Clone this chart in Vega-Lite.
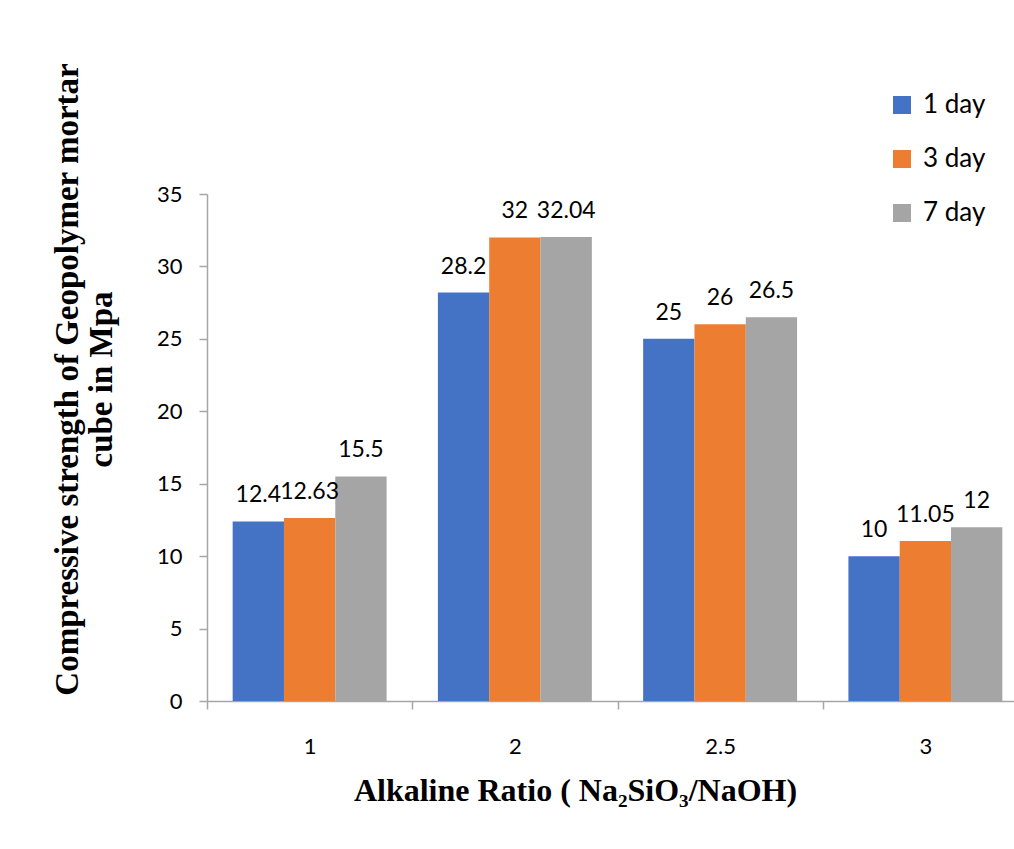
{
  "$schema": "https://vega.github.io/schema/vega-lite/v6.json",
  "autosize": {"type": "none"},
  "padding": {"left": 207, "top": 194, "right": 0, "bottom": 148},
  "width": 807,
  "height": 507,
  "background": "white",
  "config": {"view": {"stroke": null}},
  "data": {
    "values": [
      {"ratio": "1", "day": "1 day", "strength": 12.4},
      {"ratio": "1", "day": "3 day", "strength": 12.63},
      {"ratio": "1", "day": "7 day", "strength": 15.5},
      {"ratio": "2", "day": "1 day", "strength": 28.2},
      {"ratio": "2", "day": "3 day", "strength": 32},
      {"ratio": "2", "day": "7 day", "strength": 32.04},
      {"ratio": "2.5", "day": "1 day", "strength": 25},
      {"ratio": "2.5", "day": "3 day", "strength": 26},
      {"ratio": "2.5", "day": "7 day", "strength": 26.5},
      {"ratio": "3", "day": "1 day", "strength": 10},
      {"ratio": "3", "day": "3 day", "strength": 11.05},
      {"ratio": "3", "day": "7 day", "strength": 12}
    ]
  },
  "encoding": {
    "x": {
      "field": "ratio",
      "type": "nominal",
      "sort": ["1", "2", "2.5", "3"],
      "scale": {"paddingInner": 0, "paddingOuter": 0, "range": [0, 821]},
      "axis": {
        "title": "Alkaline Ratio ( Na₂SiO₃/NaOH)",
        "titleFont": "Liberation Serif",
        "titleFontWeight": "bold",
        "titleFontSize": 32,
        "titleColor": "#000000",
        "titleX": 368,
        "titleY": 99,
        "titleAlign": "center",
        "titleBaseline": "alphabetic",
        "labelAngle": 0,
        "labelFont": "Lato",
        "labelFontSize": 22,
        "labelColor": "#000000",
        "labelPadding": 27,
        "tickBand": "extent",
        "tickSize": 8,
        "tickColor": "#a6a6a6",
        "tickWidth": 1.5,
        "domainColor": "#a6a6a6",
        "domainWidth": 1.5,
        "grid": false
      }
    },
    "xOffset": {
      "field": "day",
      "type": "nominal",
      "scale": {"paddingInner": 0, "paddingOuter": 0.5}
    },
    "y": {
      "field": "strength",
      "type": "quantitative",
      "scale": {"domain": [0, 35], "nice": false},
      "axis": {
        "title": ["Compressive strength of Geopolymer mortar", "cube in Mpa"],
        "titleFont": "Liberation Serif",
        "titleFontWeight": "bold",
        "titleFontSize": 33,
        "titleLineHeight": 34,
        "titleColor": "#000000",
        "titleAngle": -90,
        "titleX": -156,
        "titleY": 185,
        "titleAlign": "center",
        "titleBaseline": "top",
        "values": [0, 5, 10, 15, 20, 25, 30, 35],
        "labelFont": "Lato",
        "labelFontSize": 22,
        "labelColor": "#000000",
        "labelPadding": 17,
        "tickSize": 8,
        "tickColor": "#a6a6a6",
        "tickWidth": 1.5,
        "domainColor": "#a6a6a6",
        "domainWidth": 1.5,
        "grid": false
      }
    }
  },
  "layer": [
    {
      "mark": {"type": "bar"},
      "encoding": {
        "color": {
          "field": "day",
          "type": "nominal",
          "scale": {"domain": ["1 day", "3 day", "7 day"], "range": ["#4472C4", "#ED7D31", "#A5A5A5"]},
          "legend": {
            "title": null,
            "orient": "none",
            "legendX": 682,
            "legendY": -102,
            "symbolType": "square",
            "symbolSize": 324,
            "symbolStrokeWidth": 0,
            "labelFont": "Lato",
            "labelFontSize": 26,
            "labelColor": "#000000",
            "labelOffset": 8,
            "rowPadding": 28
          }
        }
      }
    },
    {
      "mark": {"type": "text", "baseline": "alphabetic", "dy": -19, "font": "Lato", "fontSize": 23, "color": "#000000"},
      "encoding": {
        "text": {"field": "strength", "type": "quantitative"}
      }
    }
  ]
}
